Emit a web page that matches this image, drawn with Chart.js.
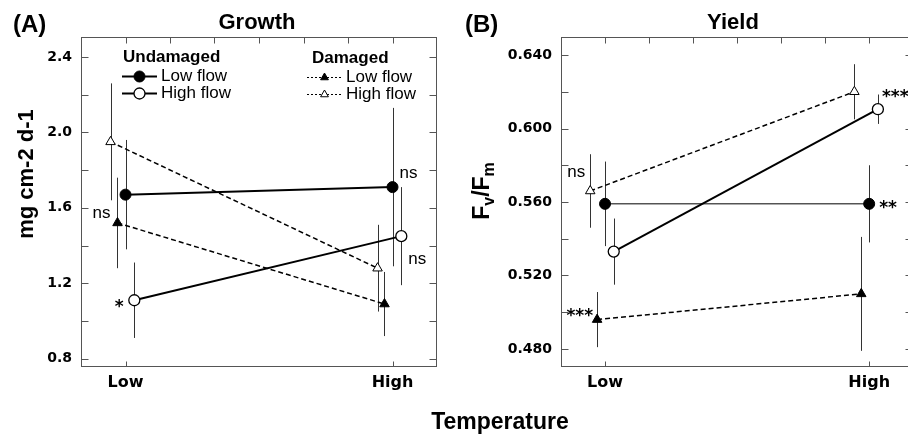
<!DOCTYPE html>
<html><head><meta charset="utf-8">
<script src="https://cdn.jsdelivr.net/npm/chart.js@4"></script>
<style>
html,body{margin:0;padding:0;background:#fff;overflow:hidden;width:908px;height:435px;}
#wrap{position:relative;width:908px;height:435px;overflow:hidden;background:#fff;}
canvas{position:absolute;top:0;}
#cA{left:0;} #cB{left:450px;}
</style></head><body>
<div id="wrap"><canvas id="cA" width="908" height="435"></canvas><canvas id="cB" width="470" height="435"></canvas></div>
<script>
// ---------- data ----------
const temperatures = ['Low', 'High'];

// Panel A: Growth (mg cm-2 d-1)
const growthTicks = [0.8, 1.2, 1.6, 2.0, 2.4];
const growthUndLow = [1.67, 1.71];
const growthUndLowErr = [0.29, 0.42];
const growthUndHigh = [1.11, 1.45];
const growthUndHighErr = [0.20, 0.26];
const growthDamLow = [1.52, 1.09];
const growthDamLowErr = [0.24, 0.17];
const growthDamHigh = [1.95, 1.28];
const growthDamHighErr = [0.31, 0.23];

// Panel B: Yield (Fv/Fm)
const yieldTicks = [0.48, 0.52, 0.56, 0.60, 0.64];
const yieldUndLow = [0.559, 0.559];
const yieldUndLowErr = [0.023, 0.021];
const yieldUndHigh = [0.533, 0.6105];
const yieldUndHighErr = [0.018, 0.008];
const yieldDamLow = [0.496, 0.510];
const yieldDamLowErr = [0.015, 0.031];
const yieldDamHigh = [0.566, 0.620];
const yieldDamHighErr = [0.020, 0.015];

// ---------- styles ----------
const STYLE = {
  undLow:  {dodge: 0.0,    pointStyle: 'circle',   pointRadius: 5.5, pointBackgroundColor: '#000', pointBorderColor: '#000', pointBorderWidth: 1, borderDash: []},
  undHigh: {dodge: 0.033,  pointStyle: 'circle',   pointRadius: 5.5, pointBackgroundColor: '#fff', pointBorderColor: '#000', pointBorderWidth: 1.3, borderDash: []},
  damLow:  {dodge: -0.030, pointStyle: 'triangle', pointRadius: 5.5, pointBackgroundColor: '#000', pointBorderColor: '#000', pointBorderWidth: 1, borderDash: [5, 3]},
  damHigh: {dodge: -0.056, pointStyle: 'triangle', pointRadius: 5.5, pointBackgroundColor: '#fff', pointBorderColor: '#000', pointBorderWidth: 1, borderDash: [5, 3]}
};
const SANS = '"Liberation Sans", Arial, sans-serif';

function series(vals, errs, key, lineWidth) {
  const s = STYLE[key];
  return {
    data: vals.map((v, i) => ({x: i + s.dodge, y: v})),
    borderColor: '#000',
    borderWidth: lineWidth,
    borderDash: s.borderDash,
    pointStyle: s.pointStyle,
    pointRadius: s.pointRadius,
    pointBackgroundColor: s.pointBackgroundColor,
    pointBorderColor: s.pointBorderColor,
    pointBorderWidth: s.pointBorderWidth,
    tension: 0,
    fill: false
  };
}

function makeChart(canvas, cfg) {
  const framePlugin = {
    id: 'frame',
    beforeDatasetsDraw(chart) {
      const ctx = chart.ctx, a = chart.chartArea, x = chart.scales.x, y = chart.scales.y;
      const L = Math.round(a.left) + 0.5, R = Math.round(a.right) - 0.5, T = Math.round(a.top) + 0.5, B = Math.round(a.bottom) - 0.5;
      ctx.save();
      ctx.strokeStyle = '#555'; ctx.lineWidth = 1; ctx.setLineDash([]);
      ctx.strokeRect(L, T, R - L, B - T);
      const major = cfg.yTicks;
      const all = major.slice();
      for (let i = 0; i < major.length - 1; i++) all.push((major[i] + major[i + 1]) / 2);
      ctx.beginPath();
      all.forEach(v => {
        const yp = Math.round(y.getPixelForValue(v)) + 0.5;
        ctx.moveTo(L, yp); ctx.lineTo(L + 7, yp);
        ctx.moveTo(R, yp); ctx.lineTo(R - 7, yp);
      });
      for (let k = 0; k <= 6; k++) {
        const xp = Math.round(x.getPixelForValue(k / 6)) + 0.5;
        ctx.moveTo(xp, T); ctx.lineTo(xp, T + 6);
      }
      temperatures.forEach((_, i) => {
        const xp = Math.round(x.getPixelForValue(i)) + 0.5;
        ctx.moveTo(xp, B); ctx.lineTo(xp, B - 5);
      });
      ctx.stroke();
      ctx.restore();
    }
  };

  const errorBarPlugin = {
    id: 'errbars',
    beforeDatasetsDraw(chart) {
      const ctx = chart.ctx, y = chart.scales.y;
      ctx.save();
      ctx.strokeStyle = '#333'; ctx.lineWidth = 1; ctx.setLineDash([]);
      cfg.series.forEach((s, di) => {
        const meta = chart.getDatasetMeta(di);
        s.values.forEach((v, i) => {
          const e = s.errors[i];
          const xp = Math.round(meta.data[i].x) + 0.5;
          ctx.beginPath();
          ctx.moveTo(xp, y.getPixelForValue(v + e));
          ctx.lineTo(xp, y.getPixelForValue(v - e));
          ctx.stroke();
        });
      });
      ctx.restore();
    }
  };

  const notePlugin = {
    id: 'notes',
    afterDatasetsDraw(chart) {
      const ctx = chart.ctx;
      ctx.save();
      ctx.fillStyle = '#000';
      cfg.notes.forEach(n => {
        const el = chart.getDatasetMeta(n.series).data[n.cat];
        const px = el.x + n.dx, py = el.y + n.dy;
        ctx.textAlign = n.align || 'center';
        if (n.text.indexOf('*') >= 0) {
          ctx.font = 'bold 17px "DejaVu Sans", sans-serif';
          ctx.textBaseline = 'alphabetic';
          ctx.fillText(n.text, px, py + 10);
        } else {
          ctx.font = '17px ' + SANS;
          ctx.textBaseline = 'middle';
          ctx.fillText(n.text, px, py);
        }
      });
      ctx.restore();
    }
  };

  const textPlugin = {
    id: 'texts',
    afterDraw(chart) {
      const t = cfg.texts;
      const ctx = chart.ctx;
      ctx.save();
      ctx.fillStyle = '#000';
      ctx.textBaseline = 'middle';
      ctx.textAlign = 'center';
      ctx.font = 'bold 22px ' + SANS;
      ctx.fillText(t.title, t.titleX, 23);
      ctx.textAlign = 'left';
      ctx.font = 'bold 24px ' + SANS;
      ctx.fillText(t.panel, t.panelX, 25);
      if (t.xTitle) {
        ctx.textAlign = 'center';
        ctx.font = 'bold 23px ' + SANS;
        ctx.fillText(t.xTitle, t.xTitleX, 423);
      }
      ctx.translate(t.yTitleX, t.yTitleY);
      ctx.rotate(-Math.PI / 2);
      let total = 0;
      t.yTitle.forEach(p => { ctx.font = 'bold ' + p.size + 'px ' + SANS; total += ctx.measureText(p.t).width; });
      let cx = -total / 2;
      ctx.textAlign = 'left';
      ctx.textBaseline = 'alphabetic';
      t.yTitle.forEach(p => {
        ctx.font = 'bold ' + p.size + 'px ' + SANS;
        ctx.fillText(p.t, cx, t.yTitleBase + p.shift);
        cx += ctx.measureText(p.t).width;
      });
      ctx.restore();
    }
  };

  const legendPlugin = {
    id: 'customLegend',
    afterDraw(chart) {
      if (!cfg.legend) return;
      const ctx = chart.ctx;
      ctx.save();
      cfg.legend.forEach(g => {
        ctx.fillStyle = '#000';
        ctx.textAlign = 'left'; ctx.textBaseline = 'middle';
        ctx.font = 'bold 17px ' + SANS;
        ctx.fillText(g.heading, g.x + g.headDx, g.y0);
        g.items.forEach((it, k) => {
          const yy = g.y0 + 19 + k * 17;
          const st = STYLE[it.key];
          ctx.strokeStyle = '#000';
          ctx.lineWidth = it.dashed ? 1 : 2;
          ctx.setLineDash(it.dashed ? [2, 2] : []);
          ctx.beginPath(); ctx.moveTo(g.x, yy + 0.5); ctx.lineTo(g.x + 35, yy + 0.5); ctx.stroke();
          ctx.setLineDash([]);
          ctx.fillStyle = st.pointBackgroundColor;
          ctx.strokeStyle = '#000';
          ctx.lineWidth = st.pointBorderWidth;
          Chart.helpers.drawPoint(ctx, {pointStyle: st.pointStyle, radius: it.dashed ? 4.5 : 5.5, borderWidth: st.pointBorderWidth, rotation: 0}, g.x + 17.5, yy + 0.5);
          ctx.fillStyle = '#000';
          ctx.font = '17px ' + SANS;
          ctx.fillText(it.label, g.x + 39, yy);
        });
      });
      ctx.restore();
    }
  };

  return new Chart(canvas, {
    type: 'line',
    data: {datasets: cfg.series.map(s => series(s.values, s.errors, s.key, s.lw))},
    plugins: [framePlugin, errorBarPlugin, notePlugin, textPlugin, legendPlugin],
    options: {
      responsive: false,
      animation: false,
      devicePixelRatio: 1,
      layout: {padding: {left: 0, right: cfg.padRight, top: 37, bottom: 38}},
      scales: {
        x: {
          type: 'linear', min: -1 / 6, max: 7 / 6,
          grid: {display: false, drawTicks: false}, border: {display: false},
          afterBuildTicks: s => { s.ticks = temperatures.map((_, i) => ({value: i})); },
          afterFit: s => { s.height = 30; },
          ticks: {padding: 6, color: '#000', autoSkip: false, maxRotation: 0,
            font: {family: 'DejaVu Sans', weight: 'bold', size: 16},
            callback: v => temperatures[v] !== undefined ? temperatures[v] : ''}
        },
        y: {
          type: 'linear', min: cfg.yMin, max: cfg.yMax,
          grid: {display: false, drawTicks: false}, border: {display: false},
          afterBuildTicks: s => { s.ticks = cfg.yTicks.map(v => ({value: v})); },
          afterFit: s => { s.width = cfg.yWidth; },
          ticks: {padding: 9, color: '#000', autoSkip: false,
            font: {family: 'DejaVu Sans', weight: 'bold', size: 14},
            callback: v => Number(v).toFixed(cfg.decimals)}
        }
      },
      plugins: {
        legend: {display: false},
        tooltip: {enabled: false}
      }
    }
  });
}

// Panel A
makeChart(document.getElementById('cA'), {
  series: [
    {values: growthUndLow, errors: growthUndLowErr, key: 'undLow', lw: 2},
    {values: growthUndHigh, errors: growthUndHighErr, key: 'undHigh', lw: 2},
    {values: growthDamLow, errors: growthDamLowErr, key: 'damLow', lw: 1.5},
    {values: growthDamHigh, errors: growthDamHighErr, key: 'damHigh', lw: 1.5}
  ],
  yMin: 0.756, yMax: 2.506, yTicks: growthTicks, decimals: 1,
  yWidth: 81, padRight: 908 - 437,
  notes: [
    {text: 'ns', series: 2, cat: 0, dx: -16, dy: -10},
    {text: '*', series: 1, cat: 0, dx: -15, dy: 2},
    {text: 'ns', series: 0, cat: 1, dx: 16, dy: -14},
    {text: 'ns', series: 1, cat: 1, dx: 16, dy: 23}
  ],
  texts: {title: 'Growth', titleX: 257, panel: '(A)', panelX: 13,
    xTitle: 'Temperature', xTitleX: 500,
    yTitleX: 30, yTitleY: 174, yTitleBase: 3,
    yTitle: [{t: 'mg cm-2 d-1', size: 22, shift: 0}]},
  legend: [
    {heading: 'Undamaged', x: 122, headDx: 1, y0: 57, items: [
      {key: 'undLow', label: 'Low flow', dashed: false},
      {key: 'undHigh', label: 'High flow', dashed: false}]},
    {heading: 'Damaged', x: 307, headDx: 5, y0: 58, items: [
      {key: 'damLow', label: 'Low flow', dashed: true},
      {key: 'damHigh', label: 'High flow', dashed: true}]}
  ]
});

// Panel B
makeChart(document.getElementById('cB'), {
  series: [
    {values: yieldUndLow, errors: yieldUndLowErr, key: 'undLow', lw: 1},
    {values: yieldUndHigh, errors: yieldUndHighErr, key: 'undHigh', lw: 2},
    {values: yieldDamLow, errors: yieldDamLowErr, key: 'damLow', lw: 1.5},
    {values: yieldDamHigh, errors: yieldDamHighErr, key: 'damHigh', lw: 1.5}
  ],
  yMin: 0.4702, yMax: 0.6498, yTicks: yieldTicks, decimals: 3,
  yWidth: 111, padRight: 2,
  notes: [
    {text: 'ns', series: 3, cat: 0, dx: -14, dy: -19},
    {text: '***', series: 1, cat: 1, dx: 4, dy: -17, align: 'left'},
    {text: '**', series: 0, cat: 1, dx: 10, dy: -1, align: 'left'},
    {text: '***', series: 2, cat: 0, dx: -4, dy: -9, align: 'right'}
  ],
  texts: {title: 'Yield', titleX: 283, panel: '(B)', panelX: 15,
    yTitleX: 35, yTitleY: 191, yTitleBase: 4,
    yTitle: [{t: 'F', size: 23, shift: 0}, {t: 'v', size: 16, shift: 5}, {t: '/', size: 23, shift: 0}, {t: 'F', size: 23, shift: 0}, {t: 'm', size: 16, shift: 5}]},
  legend: null
});
</script>
</body></html>
